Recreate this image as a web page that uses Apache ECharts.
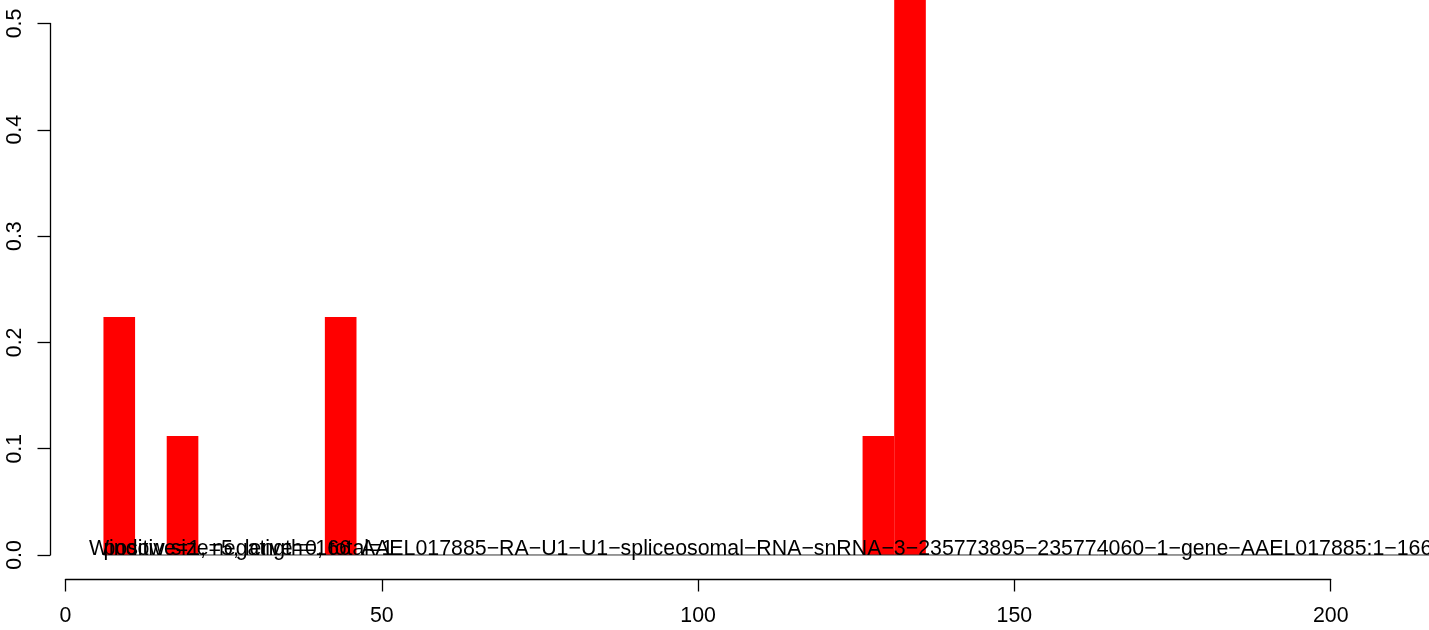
<!DOCTYPE html>
<html>
<head>
<meta charset="utf-8">
<script src="https://cdn.jsdelivr.net/npm/echarts@6/dist/echarts.min.js"></script>
<style>
  html, body { margin: 0; padding: 0; background: #fff; }
  #main { width: 1429px; height: 630px; }
</style>
</head>
<body>
<div id="main"></div>
<script>
// 窗口起点 / 宽度 / 比例
const binStart = [6, 16, 41, 126, 131];
const binWidth = 5;
const density = [0.224, 0.112, 0.224, 0.112, 0.56];

// 底部基线 (零值窗口)
const baseX = [6, 216];

// 图内文字
const notes = [
  'Window size=5, length=166',
  'positive=1, negative=0, total=1',
  'AAEL017885\u2212RA\u2212U1\u2212U1\u2212spliceosomal\u2212RNA\u2212snRNA\u22123\u2212235773895\u2212235774060\u22121\u2212gene\u2212AAEL017885:1\u2212166'
];
const noteX = [3.7, 6, 46.7];

const xTicks = [0, 200, 50];   // min, max, interval
const yTicks = [0, 0.5, 0.1];

var myChart = echarts.init(document.getElementById('main'));
const font = '"Liberation Sans", Arial, Helvetica, sans-serif';
const bars = binStart.map((s, i) => [s, s + binWidth, density[i]]);

const option = {
  animation: false,
  backgroundColor: '#fff',
  grid: [
    { left: 50, right: 0, top: 0, bottom: 51 },            // 数据区
    { left: 50, width: 10, top: 23.5, height: 531.5 },     // y轴
    { left: 65.5, width: 1265.2, top: 0, bottom: 51 }      // x轴
  ],
  xAxis: [
    { gridIndex: 0, type: 'value', min: -2.45, max: 215.54, show: false },
    { gridIndex: 1, type: 'value', min: 0, max: 1, show: false },
    {
      gridIndex: 2, type: 'value', position: 'bottom',
      min: xTicks[0], max: xTicks[1], interval: xTicks[2],
      axisLine: { show: true, lineStyle: { color: '#000', width: 1.3 } },
      axisTick: { show: true, length: 12.5, lineStyle: { color: '#000', width: 1.3 } },
      axisLabel: { show: true, margin: 27, color: '#000', fontSize: 21.33, fontFamily: font,
                   showMinLabel: true, showMaxLabel: true },
      splitLine: { show: false }
    }
  ],
  yAxis: [
    { gridIndex: 0, type: 'value', min: -0.02258, max: 0.5221, show: false },
    {
      gridIndex: 1, type: 'value', position: 'left',
      min: yTicks[0], max: yTicks[1], interval: yTicks[2],
      axisLine: { show: true, lineStyle: { color: '#000', width: 1.3 } },
      axisTick: { show: true, length: 12.5, lineStyle: { color: '#000', width: 1.3 } },
      axisLabel: { show: true, rotate: 90, margin: 24, color: '#000', fontSize: 21.33, fontFamily: font,
                   showMinLabel: true, showMaxLabel: true,
                   formatter: v => v.toFixed(1) },
      splitLine: { show: false }
    },
    { gridIndex: 2, type: 'value', show: false }
  ],
  series: [
    {
      type: 'custom',
      xAxisIndex: 0, yAxisIndex: 0,
      clip: false,
      data: bars,
      renderItem: function (params, api) {
        const p0 = api.coord([api.value(0), api.value(2)]);
        const p1 = api.coord([api.value(1), 0]);
        return {
          type: 'rect',
          shape: { x: p0[0], y: p0[1], width: p1[0] - p0[0], height: p1[1] - p0[1] },
          style: { fill: '#ff0000' }
        };
      }
    },
    {
      type: 'line',
      xAxisIndex: 0, yAxisIndex: 0,
      data: baseX.map(x => [x, 0]),
      symbol: 'none',
      silent: true,
      lineStyle: { color: '#333', width: 1 },
      z: 3
    }
  ]
};
myChart.setOption(option);

// 文字定位到数据坐标
const pts = noteX.map(x => myChart.convertToPixel({ gridIndex: 0 }, [x, 0]));
myChart.setOption({
  graphic: notes.map((t, i) => ({
    type: 'text',
    x: pts[i][0],
    y: pts[i][1] + 5,
    z: 10,
    style: {
      text: t,
      fontSize: 21.33,
      fontFamily: font,
      fill: '#000',
      align: 'left',
      verticalAlign: 'bottom'
    }
  }))
});
</script>
</body>
</html>
